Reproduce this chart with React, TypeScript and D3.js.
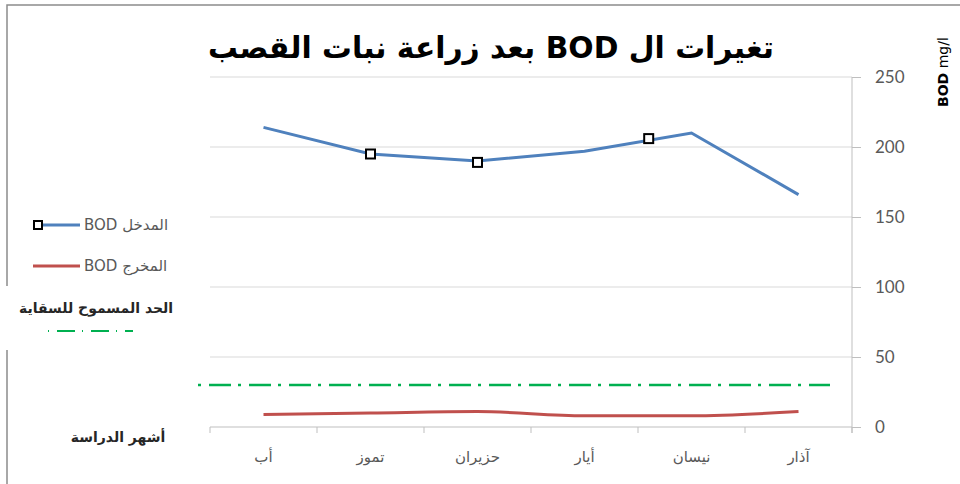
import { useRef, useEffect } from "react"
import * as d3 from "d3"

// months in chronological order (the axis runs right-to-left)
const months = ["آذار", "نيسان", "أيار", "حزيران", "تموز", "أب"]
const bodIn = [166, 210, 197, 190, 195, 214]
const bodOut = [11, 8, 8, 11, 10, 9]
const irrigationLimit = 30
// square markers as drawn on the original (month index, value)
const markerIdx = [4, 3, 1.4]
const markerVals = [195, 189, 206]
const yTicks = [0, 50, 100, 150, 200, 250]

const title = "تغيرات ال BOD بعد زراعة نبات القصب"
const legendIn = "BOD المدخل"
const legendOut = "BOD المخرج"
const limitLabel = "الحد المسموح للسقاية"
const xTitle = "أشهر الدراسة"

export default function App() {
    const svgRef = useRef<SVGSVGElement>(null)
    useEffect(() => {
        const width = 960, height = 484
        const svg = d3.select(svgRef.current)
        svg.selectAll("*").remove()
        svg.attr("width", width).attr("height", height)

        const arFont = "'DejaVu Sans', sans-serif"
        const numFont = "Lato, 'Open Sans', sans-serif"
        const blue = "#4f81bd", red = "#c0504d", green = "#00b050"

        const plot = { left: 210, right: 852, top: 77, bottom: 427 }

        const x = d3.scaleBand().domain(months).range([plot.right, plot.left])
        const xc = (m: string) => (x(m) as number) + x.bandwidth() / 2
        const xi = d3.scaleLinear().domain([0, months.length - 1])
            .range([xc(months[0]), xc(months[months.length - 1])])
        const y = d3.scaleLinear().domain([0, 250]).range([plot.bottom, plot.top])

        // outer frame
        svg.append("path")
            .attr("d", `M7,484 V5 H960`)
            .attr("fill", "none").attr("stroke", "#8c8c8c").attr("stroke-width", 1.5)

        // gridlines
        svg.append("g").selectAll("line").data(yTicks.filter(t => t > 0)).enter().append("line")
            .attr("x1", plot.left).attr("x2", plot.right)
            .attr("y1", d => y(d)).attr("y2", d => y(d))
            .attr("stroke", "#d9d9d9").attr("stroke-width", 1)

        // y axis on the right
        const yAxis = d3.axisRight(y).tickValues(yTicks).tickSize(9).tickPadding(14)
        const gy = svg.append("g").attr("transform", `translate(${plot.right},0)`).call(yAxis)
        gy.select(".domain").attr("stroke", "#bfbfbf").attr("d", `M0,${plot.top}V${plot.bottom + 6}`)
        gy.selectAll(".tick line").attr("stroke", "#bfbfbf")
        gy.selectAll(".tick text").attr("fill", "#595959").attr("font-family", numFont).attr("font-size", 17)

        // x axis
        const xAxis = d3.axisBottom(x).tickSize(0).tickPadding(24)
        const gx = svg.append("g").attr("transform", `translate(0,${plot.bottom})`).call(xAxis)
        gx.select(".domain").attr("stroke", "#bfbfbf").attr("d", `M${plot.left},0H${plot.right}`)
        gx.selectAll(".tick text").attr("fill", "#595959").attr("font-family", arFont).attr("font-size", 15)
        const edges = months.map(m => x(m) as number).concat([plot.right])
        gx.selectAll(".edge").data(edges).enter().append("line")
            .attr("x1", d => d).attr("x2", d => d).attr("y1", 0).attr("y2", 6)
            .attr("stroke", "#bfbfbf")

        // irrigation limit
        svg.append("line")
            .attr("x1", 198).attr("x2", 830)
            .attr("y1", y(irrigationLimit)).attr("y2", y(irrigationLimit))
            .attr("stroke", green).attr("stroke-width", 2.5)
            .attr("stroke-dasharray", "3 8 22 7")

        const line = d3.line<number>().x((_, i) => xc(months[i])).y(d => y(d))
        svg.append("path").datum(bodOut)
            .attr("d", line.curve(d3.curveMonotoneX))
            .attr("fill", "none").attr("stroke", red).attr("stroke-width", 3)
        svg.append("path").datum(bodIn)
            .attr("d", d3.line<number>().x((_, i) => xc(months[i])).y(d => y(d)))
            .attr("fill", "none").attr("stroke", blue).attr("stroke-width", 3)

        svg.append("g").selectAll("rect").data(markerIdx).enter().append("rect")
            .attr("x", d => xi(d) - 4.5).attr("y", (_, i) => y(markerVals[i]) - 4.5)
            .attr("width", 9).attr("height", 9)
            .attr("fill", "#fff").attr("stroke", "#000").attr("stroke-width", 2)

        // title
        svg.append("text").text(title)
            .attr("x", 491).attr("y", 58).attr("text-anchor", "middle")
            .attr("direction", "rtl")
            .attr("font-family", arFont).attr("font-weight", "bold").attr("font-size", 30)
            .attr("fill", "#000")
            .attr("textLength", 566).attr("lengthAdjust", "spacingAndGlyphs")

        // y title
        const yt = svg.append("text")
            .attr("transform", "translate(948,107) rotate(-90)")
            .attr("font-family", arFont).attr("font-size", 14).attr("fill", "#000")
        yt.append("tspan").text("BOD").attr("font-weight", "bold")
        yt.append("tspan").text(" mg/l")

        // legend
        const lg = svg.append("g")
        lg.append("line").attr("x1", 33).attr("x2", 80).attr("y1", 225).attr("y2", 225)
            .attr("stroke", blue).attr("stroke-width", 3)
        lg.append("rect").attr("x", 34).attr("y", 221).attr("width", 8).attr("height", 8)
            .attr("fill", "#fff").attr("stroke", "#000").attr("stroke-width", 2)
        lg.append("text").text(legendIn).attr("x", 84).attr("y", 230)
            .attr("font-family", arFont).attr("font-size", 15).attr("fill", "#595959")
        lg.append("line").attr("x1", 33).attr("x2", 80).attr("y1", 266).attr("y2", 266)
            .attr("stroke", red).attr("stroke-width", 3)
        lg.append("text").text(legendOut).attr("x", 84).attr("y", 271)
            .attr("font-family", arFont).attr("font-size", 15).attr("fill", "#595959")

        // limit label box
        svg.append("rect").attr("x", 0).attr("y", 286).attr("width", 200).attr("height", 64).attr("fill", "#fff")
        svg.append("text").text(limitLabel).attr("x", 96).attr("y", 313).attr("text-anchor", "middle")
            .attr("font-family", arFont).attr("font-weight", "bold").attr("font-size", 14).attr("fill", "#262626")
        svg.append("line").attr("x1", 48).attr("x2", 133).attr("y1", 331).attr("y2", 331)
            .attr("stroke", green).attr("stroke-width", 2)
            .attr("stroke-dasharray", "1 8 18 7")

        svg.append("text").text(xTitle).attr("x", 118).attr("y", 442).attr("text-anchor", "middle")
            .attr("font-family", arFont).attr("font-weight", "bold").attr("font-size", 14).attr("fill", "#262626")
    }, [])
    return (
        <div style={{ position: "absolute", left: 0, top: 0 }}>
            <svg ref={svgRef} style={{ display: "block" }}></svg>
        </div>
    )
}
